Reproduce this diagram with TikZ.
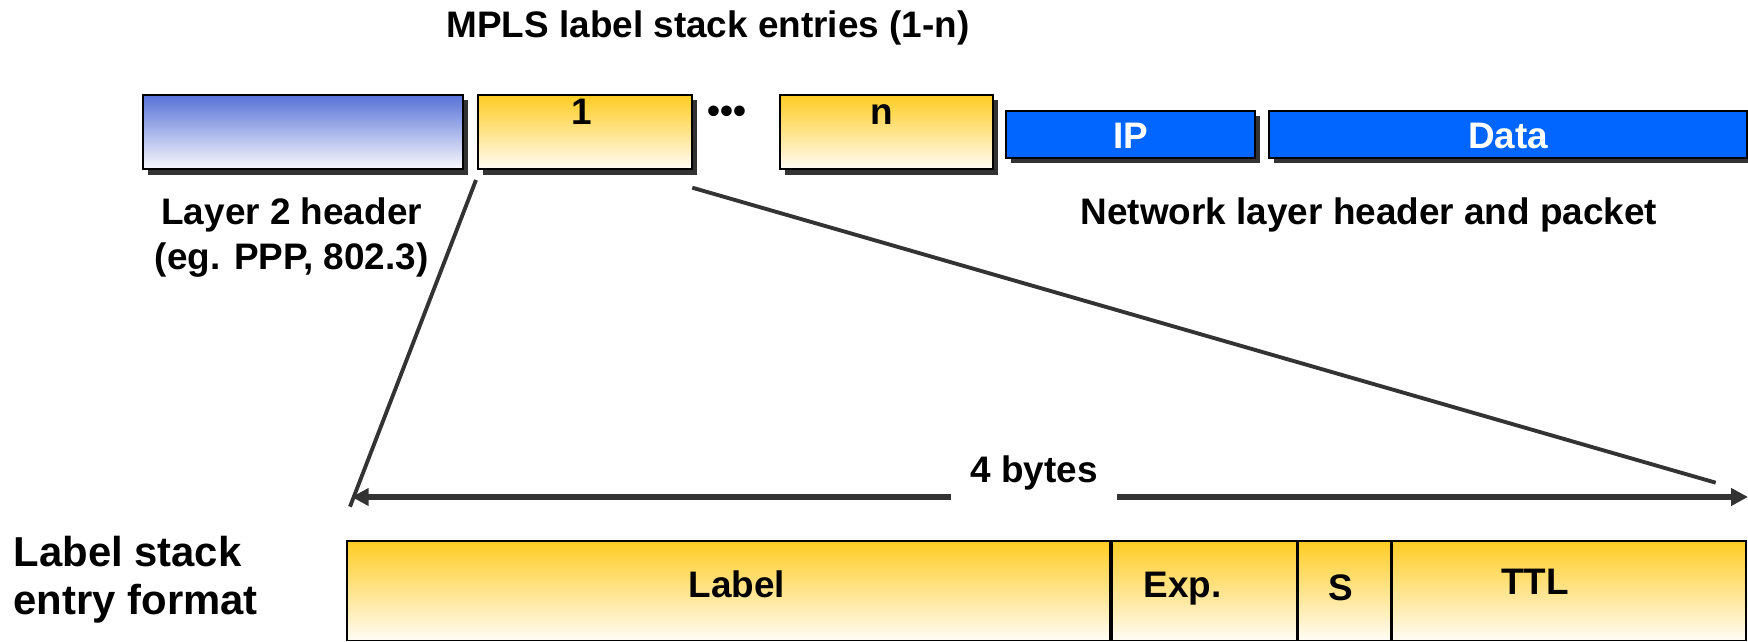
\documentclass[tikz,border=0pt]{standalone}
\usepackage{fontspec}
\setmainfont{Liberation Sans}
\usetikzlibrary{arrows.meta,shadows,calc}
\definecolor{stackyellow}{RGB}{255,204,34}
\definecolor{stackcream}{RGB}{255,252,246}
\definecolor{hdrblue}{RGB}{88,114,216}
\definecolor{hdrwhite}{RGB}{250,250,253}
\definecolor{netblue}{RGB}{0,102,255}
\definecolor{linegray}{RGB}{51,51,51}
\tikzset{
    pkt/.style={
        draw=black, line width=0.5pt, inner sep=0pt, outer sep=0pt, anchor=north west,
        drop shadow={shadow xshift=0.05cm, shadow yshift=-0.055cm, fill=linegray, opacity=1}
    },
    yellowfade/.style={top color=stackyellow, middle color=stackyellow!35!stackcream, bottom color=stackcream},
    stackbox/.style={pkt, yellowfade, minimum height=0.743cm},
    l2box/.style={pkt, top color=hdrblue, middle color=hdrblue!40!hdrwhite, bottom color=hdrwhite, minimum height=0.743cm},
    netbox/.style={pkt, fill=netblue, minimum height=0.467cm},
    txt/.style={font=\fontsize{10.5}{12.8}\selectfont\bfseries, inner sep=0pt, anchor=base},
    bigtxt/.style={font=\fontsize{11.9}{13.7}\selectfont\bfseries, inner sep=0pt, anchor=base west},
    zoomline/.style={linegray, line width=1.1pt},
    sizearrow/.style={linegray, line width=1.7pt, -{Triangle[length=0.17cm,width=0.17cm]}}
}

\begin{document}
\begin{tikzpicture}
    \useasboundingbox (0,0) rectangle (17.48,-6.42);
    % packet
    \node[l2box, minimum width=3.206cm] (l2) at (1.427,-0.95) {};
    \node[stackbox, minimum width=2.14cm] (e1) at (4.783,-0.95) {};
    \node[stackbox, minimum width=2.133cm] (en) at (7.80,-0.95) {};
    \node[netbox, minimum width=2.49cm] (ip) at (10.06,-1.11) {};
    \node[netbox, minimum width=4.774cm] (data) at (12.693,-1.11) {};

    \node[txt] (title) at (7.08,-0.38) {MPLS label stack entries (1-n)};
    \node[txt] (t1) at (5.817,-1.25) {1};
    \node[txt] (dots) at (7.267,-1.24) {•••};
    \node[txt] (tn) at (8.817,-1.25) {n};
    \node[txt, white] (tip) at (11.305,-1.483) {IP};
    \node[txt, white] (tdata) at (15.08,-1.483) {Data};
    \node[txt] (l2a) at (2.917,-2.25) {Layer 2 header};
    \node[txt] (l2b) at (2.917,-2.70) {(eg. PPP, 802.3)};
    \node[txt] (nettxt) at (13.69,-2.25) {Network layer header and packet};

    % entry format
    \node[bigtxt] (fmt1) at (0.13,-5.667) {Label stack};
    \node[bigtxt] (fmt2) at (0.13,-6.15) {entry format};
    \node[draw=black, line width=0.5pt, yellowfade,
        anchor=north west, inner sep=0pt, outer sep=0pt,
        minimum width=13.993cm, minimum height=0.998cm] (lse) at (3.467,-5.407) {};
    \foreach \x in {11.11,12.977,13.917}
        \draw[line width=1pt] (\x,0 |- lse.north) -- (\x,0 |- lse.south);
    \node[txt] (flabel) at (7.37,-5.98) {Label};
    \node[txt] (fexp) at (11.826,-5.98) {Exp.};
    \node[txt] (fs) at (13.407,-6.01) {S};
    \node[txt] (fttl) at (15.35,-5.95) {TTL};

    % 4 bytes
    \coordinate (al) at (3.517,-4.97);
    \coordinate (ar) at (17.48,-4.97);
    \node[txt, inner xsep=0.19cm] (bytes) at (10.34,-4.83) {4 bytes};
    \draw[sizearrow] (bytes.west |- al) -- (al);
    \draw[sizearrow] (bytes.east |- ar) -- (ar);

    % zoom lines
    \coordinate (z1a) at (4.76,-1.80);
    \coordinate (z1b) at (3.50,-5.067);
    \coordinate (z2a) at (6.923,-1.877);
    \coordinate (z2b) at (17.157,-4.827);
    \draw[zoomline] (z1a) -- (z1b);
    \draw[zoomline] (z2a) -- (z2b);
\end{tikzpicture}
\end{document}
